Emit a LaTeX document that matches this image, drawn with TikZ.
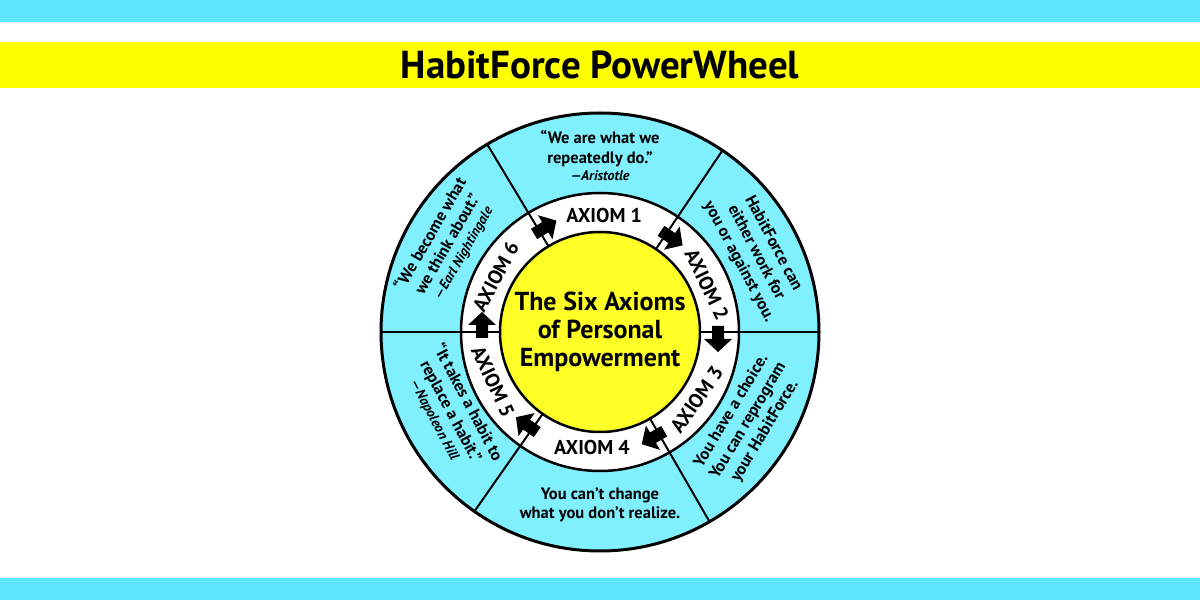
\documentclass[tikz,border=0pt]{standalone}
\usepackage{fontspec}
\setmainfont{PT Sans}
\definecolor{bandcyan}{RGB}{97,230,255}
\definecolor{wheelcyan}{RGB}{128,240,255}
\definecolor{bandyellow}{RGB}{255,255,0}
\definecolor{hubyellow}{RGB}{255,255,40}
\begin{document}
\begin{tikzpicture}[x=1pt,y=1pt,
  segtext/.style={align=center,font=\fontsize{16.5}{19.5}\selectfont\bfseries,inner sep=0pt},
  axtext/.style={font=\fontsize{20}{22}\selectfont\bfseries,inner sep=0pt},
  barrow/.pic={\fill[black] (-6,-6) -- (7,-6) -- (7,-14) -- (20,0) -- (7,14) -- (7,6) -- (-6,6) -- cycle;}]
\useasboundingbox (0,0) rectangle (1200,600);
\fill[white] (0,0) rectangle (1200,600);
\fill[bandcyan] (0,578) rectangle (1200,600);
\fill[bandcyan] (0,0) rectangle (1200,22);
\fill[bandyellow] (0,512) rectangle (1200,558);
\node[font=\fontsize{39}{44}\selectfont\bfseries,inner sep=0pt] (title) at (600,535) {HabitForce PowerWheel};
\coordinate (C) at (600,268);
\filldraw[fill=wheelcyan, draw=black, line width=3] (C) circle[radius=219];
\filldraw[fill=white, draw=black, line width=2.5] (C) circle[radius=139];
\foreach \a in {0,56,121,180,235,300}
  \draw[line width=2] (C) ++(\a:100) -- ++(\a:119);
\filldraw[fill=hubyellow, draw=black, line width=2.5] (C) circle[radius=100];
\foreach \a in {0,56,121,180,235,300}
  \path (C) ++(\a:118) pic[rotate=\a-90] {barrow};
% hub text
\node[align=center,font=\fontsize{26}{28}\selectfont\bfseries,inner sep=0pt] (hub) at (C) {The Six Axioms\\of Personal\\Empowerment};
% axiom labels
\path (C) ++(88:117) node[axtext] (ax1) {AXIOM 1};
\path (C) ++(24:117) node[axtext,rotate=-64] (ax2) {AXIOM 2};
\path (C) ++(325:118) node[axtext,rotate=55] (ax3) {AXIOM 3};
\path (C) ++(266:116) node[axtext] (ax4) {AXIOM 4};
\path (C) ++(205:118) node[axtext,rotate=-65] (ax5) {AXIOM 5};
\path (C) ++(152:118) node[axtext,rotate=62] (ax6) {AXIOM 6};
% segment texts
\path (C) ++(90:176) node[segtext] (q1) {“We are what we\\repeatedly do.”\\[-2pt]{\fontsize{14}{16}\selectfont\itshape —Aristotle}};
\path (C) ++(27:175) node[segtext,rotate=-62] (q2) {HabitForce can\\either work for\\you or against you.};
\path (C) ++(329:173) node[segtext,rotate=59] (q3) {You have a choice.\\You can reprogram\\your HabitForce.};
\path (C) ++(270:173) node[segtext] (q4) {You can’t change\\what you don’t realize.};
\path (C) ++(208:168) node[segtext,rotate=-62] (q5) {“It takes a habit to\\replace a habit.”\\[-2pt]{\fontsize{14}{16}\selectfont\itshape —Napoleon Hill}};
\path (C) ++(150:177) node[segtext,rotate=60] (q6) {“We become what\\we think about.”\\[-2pt]{\fontsize{14}{16}\selectfont\itshape —Earl Nightingale}};
\end{tikzpicture}
\end{document}
